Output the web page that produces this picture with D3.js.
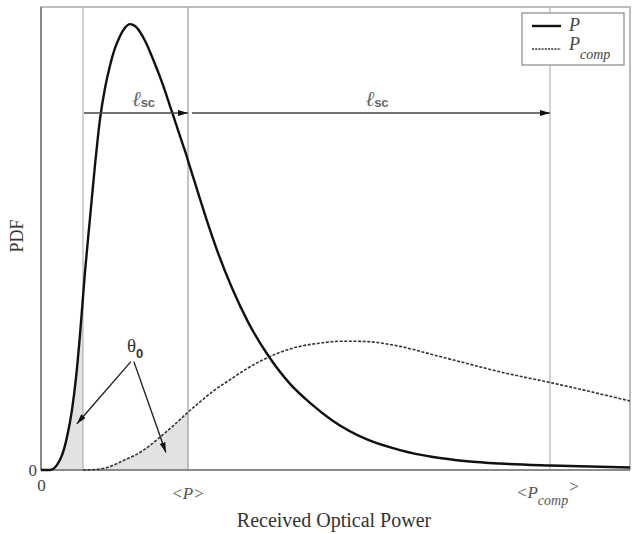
<!DOCTYPE html>
<html>
<head>
<meta charset="utf-8">
<script src="https://cdn.jsdelivr.net/npm/d3@7"></script>
<style>
  html, body { margin: 0; padding: 0; background: #fff; }
  svg { display: block; }
</style>
</head>
<body>
<svg id="chart" width="633" height="534"></svg>
<script>
// ---- Data (x in arbitrary power units 0..10, y = PDF normalised 0..1) ----
const pX = [0, 0.153, 0.204, 0.272, 0.357, 0.441, 0.526, 0.594, 0.662, 0.747, 0.832, 0.917, 1.002, 1.087, 1.171, 1.256, 1.341, 1.426, 1.511, 1.596, 1.681, 1.766, 1.851, 1.935, 2.020, 2.105, 2.190, 2.275, 2.360, 2.445, 2.530, 2.615, 2.700, 2.818, 3.005, 3.243, 3.514, 3.837, 4.228, 4.567, 4.958, 5.535, 6.095, 6.655, 7.233, 7.793, 8.642, 10];
const pY = [0, 0, 0.002, 0.011, 0.032, 0.071, 0.130, 0.199, 0.292, 0.428, 0.544, 0.659, 0.758, 0.825, 0.873, 0.911, 0.937, 0.955, 0.963, 0.959, 0.946, 0.927, 0.903, 0.877, 0.849, 0.819, 0.786, 0.754, 0.721, 0.689, 0.654, 0.620, 0.585, 0.538, 0.469, 0.393, 0.320, 0.251, 0.186, 0.145, 0.106, 0.066, 0.043, 0.028, 0.019, 0.014, 0.0097, 0.0054];

const pcX = [0.713, 0.917, 1.087, 1.256, 1.426, 1.596, 1.766, 2.020, 2.275, 2.496, 2.700, 2.920, 3.209, 3.497, 3.769, 4.058, 4.397, 4.737, 5.076, 5.331, 5.586, 5.840, 6.095, 6.655, 7.233, 7.793, 8.642, 9.202, 10];
const pcY = [0, 0.001, 0.004, 0.012, 0.022, 0.032, 0.045, 0.071, 0.099, 0.125, 0.147, 0.170, 0.195, 0.219, 0.238, 0.254, 0.267, 0.274, 0.278, 0.278, 0.277, 0.273, 0.267, 0.249, 0.230, 0.212, 0.189, 0.173, 0.149];

// reference positions
const xThreshold = 0.713;   // P_th
const xMeanP = 2.496;       // <P>
const xMeanPcomp = 8.642;   // <P_comp>
const arrowLevel = 0.771;   // height of l_sc arrows
const seriesNames = ["P", "P"];
const xTickLabels = ["0"];
const yTickLabels = ["0"];

// ---- Layout ----
const svg = d3.select("#chart");
const L = 41, R = 630, T = 7, B = 470;
const x = d3.scaleLinear().domain([0, 10]).range([L, R]);
const y = d3.scaleLinear().domain([0, 1]).range([B, T]);

const serif = "'Liberation Serif', 'Times New Roman', serif";
const sans = "'Liberation Sans', Arial, sans-serif";

// defs: arrowhead + clip paths
const defs = svg.append("defs");
defs.append("marker").attr("id", "ah").attr("viewBox", "0 0 10 6")
  .attr("refX", 10).attr("refY", 3).attr("markerWidth", 10).attr("markerHeight", 6)
  .attr("markerUnits", "userSpaceOnUse").attr("orient", "auto")
  .append("path").attr("d", "M0,0 L10,3 L0,6 Z").attr("fill", "#111");
defs.append("clipPath").attr("id", "clipP").append("rect")
  .attr("x", x(0)).attr("y", T).attr("width", x(xThreshold) - x(0)).attr("height", B - T);
defs.append("clipPath").attr("id", "clipPc").append("rect")
  .attr("x", x(xThreshold)).attr("y", T).attr("width", x(xMeanP) - x(xThreshold)).attr("height", B - T);

const pData = pX.map((d, i) => [d, pY[i]]);
const pcData = pcX.map((d, i) => [d, pcY[i]]);

const area = d3.area().x(d => x(d[0])).y0(y(0)).y1(d => y(d[1])).curve(d3.curveMonotoneX);
const line = d3.line().x(d => x(d[0])).y(d => y(d[1])).curve(d3.curveMonotoneX);

// shaded regions (outage areas)
svg.append("path").attr("d", area(pData)).attr("fill", "#e2e2e2").attr("clip-path", "url(#clipP)");
svg.append("path").attr("d", area(pcData)).attr("fill", "#e2e2e2").attr("clip-path", "url(#clipPc)");

// vertical reference lines
[xThreshold, xMeanP, xMeanPcomp].forEach((v, i) => {
  svg.append("line").attr("x1", x(v)).attr("x2", x(v)).attr("y1", T).attr("y2", B)
    .attr("stroke", i === 1 ? "#9a9a9a" : "#b4b4b4").attr("stroke-width", 1.2);
});

// frame
svg.append("rect").attr("x", L).attr("y", T).attr("width", R - L).attr("height", B - T)
  .attr("fill", "none").attr("stroke", "#a8a8a8").attr("stroke-width", 1.5);
svg.append("line").attr("x1", L).attr("x2", L).attr("y1", T).attr("y2", B).attr("stroke", "#8a8a8a").attr("stroke-width", 2);
svg.append("line").attr("x1", L).attr("x2", R).attr("y1", B).attr("y2", B).attr("stroke", "#8a8a8a").attr("stroke-width", 2);

// curves
svg.append("path").attr("d", line(pcData)).attr("fill", "none")
  .attr("stroke", "#333").attr("stroke-width", 1.6).attr("stroke-dasharray", "3,1.6");
svg.append("path").attr("d", line(pData)).attr("fill", "none")
  .attr("stroke", "#111").attr("stroke-width", 2.4);

// axes (only the "0" ticks)
const xAxis = svg.append("g").attr("transform", `translate(0,${B})`)
  .call(d3.axisBottom(x).tickValues([0]).tickSize(0).tickPadding(9).tickFormat((d, i) => xTickLabels[i]));
xAxis.select(".domain").remove();
xAxis.selectAll("text").attr("font-family", serif).attr("font-size", 17).attr("fill", "#444");
const yAxis = svg.append("g").attr("transform", `translate(${L},0)`)
  .call(d3.axisLeft(y).tickValues([0]).tickSize(0).tickPadding(4).tickFormat((d, i) => yTickLabels[i]));
yAxis.select(".domain").remove();
yAxis.selectAll("text").attr("font-family", serif).attr("font-size", 17).attr("fill", "#444");

// l_sc arrows
svg.append("line").attr("x1", x(xThreshold) + 1).attr("x2", x(xMeanP))
  .attr("y1", y(arrowLevel)).attr("y2", y(arrowLevel))
  .attr("stroke", "#444").attr("stroke-width", 1.6).attr("marker-end", "url(#ah)");
svg.append("line").attr("x1", x(xMeanP) + 4).attr("x2", x(xMeanPcomp))
  .attr("y1", y(arrowLevel)).attr("y2", y(arrowLevel))
  .attr("stroke", "#444").attr("stroke-width", 1.6).attr("marker-end", "url(#ah)");

function lsc(cx) {
  const t = svg.append("text").attr("x", cx).attr("y", y(arrowLevel) - 7)
    .attr("text-anchor", "middle").attr("fill", "#666");
  t.append("tspan").attr("font-family", serif).attr("font-style", "italic").attr("font-size", 21).text("ℓ");
  t.append("tspan").attr("font-family", sans).attr("font-weight", "bold").attr("font-size", 13).attr("dy", 1).text("sc");
}
lsc((x(xThreshold) + x(xMeanP)) / 2 + 8);
lsc((x(xMeanP) + x(xMeanPcomp)) / 2 + 8);

// theta_0 label and arrows
const thx = x(1.56), thy = y(0.26);
const th = svg.append("text").attr("x", thx - 6).attr("y", thy + 2).attr("fill", "#333");
th.append("tspan").attr("font-family", serif).attr("font-size", 19).text("θ");
th.append("tspan").attr("font-family", sans).attr("font-size", 13).attr("font-weight", "bold").attr("dy", 6).text("0");
svg.append("line").attr("x1", thx - 2).attr("y1", thy + 12).attr("x2", x(0.61)).attr("y2", y(0.1))
  .attr("stroke", "#222").attr("stroke-width", 1.4).attr("marker-end", "url(#ah)");
svg.append("line").attr("x1", thx + 1).attr("y1", thy + 12).attr("x2", x(2.12)).attr("y2", y(0.038))
  .attr("stroke", "#222").attr("stroke-width", 1.4).attr("marker-end", "url(#ah)");

// x labels for <P> and <P_comp>
svg.append("text").attr("x", x(xMeanP)).attr("y", 499).attr("text-anchor", "middle")
  .attr("font-family", serif).attr("font-style", "italic").attr("font-size", 17).attr("fill", "#555")
  .text("<P>");
const pc = svg.append("text").attr("x", x(xMeanPcomp) - 34).attr("y", 498)
  .attr("font-family", serif).attr("font-style", "italic").attr("font-size", 17).attr("fill", "#555");
pc.append("tspan").text("<P");
pc.append("tspan").attr("font-size", 14).attr("dy", 7).text("comp");
pc.append("tspan").attr("dy", -13).text(">");

// axis titles
svg.append("text").attr("x", 334).attr("y", 527).attr("text-anchor", "middle")
  .attr("font-family", serif).attr("font-size", 20).attr("fill", "#333").text("Received Optical Power");
svg.append("text").attr("transform", "translate(23,236) rotate(-90)").attr("text-anchor", "middle")
  .attr("font-family", serif).attr("font-size", 18).attr("fill", "#333").text("PDF");

// legend
const lg = svg.append("g");
lg.append("rect").attr("x", 522).attr("y", 13).attr("width", 102).attr("height", 52)
  .attr("fill", "#fff").attr("stroke", "#888").attr("stroke-width", 1.2);
lg.append("line").attr("x1", 532).attr("x2", 561).attr("y1", 26).attr("y2", 26)
  .attr("stroke", "#111").attr("stroke-width", 2.4);
lg.append("line").attr("x1", 532).attr("x2", 561).attr("y1", 49).attr("y2", 49)
  .attr("stroke", "#333").attr("stroke-width", 1.4).attr("stroke-dasharray", "2,1.2");
lg.append("text").attr("x", 569).attr("y", 31).attr("font-family", serif).attr("font-style", "italic")
  .attr("font-size", 18).attr("fill", "#444").text(seriesNames[0]);
const l2 = lg.append("text").attr("x", 569).attr("y", 50).attr("font-family", serif).attr("font-style", "italic")
  .attr("font-size", 18).attr("fill", "#444");
l2.append("tspan").text(seriesNames[1]);
l2.append("tspan").attr("font-size", 14).attr("dy", 9).text("comp");
</script>
</body>
</html>
